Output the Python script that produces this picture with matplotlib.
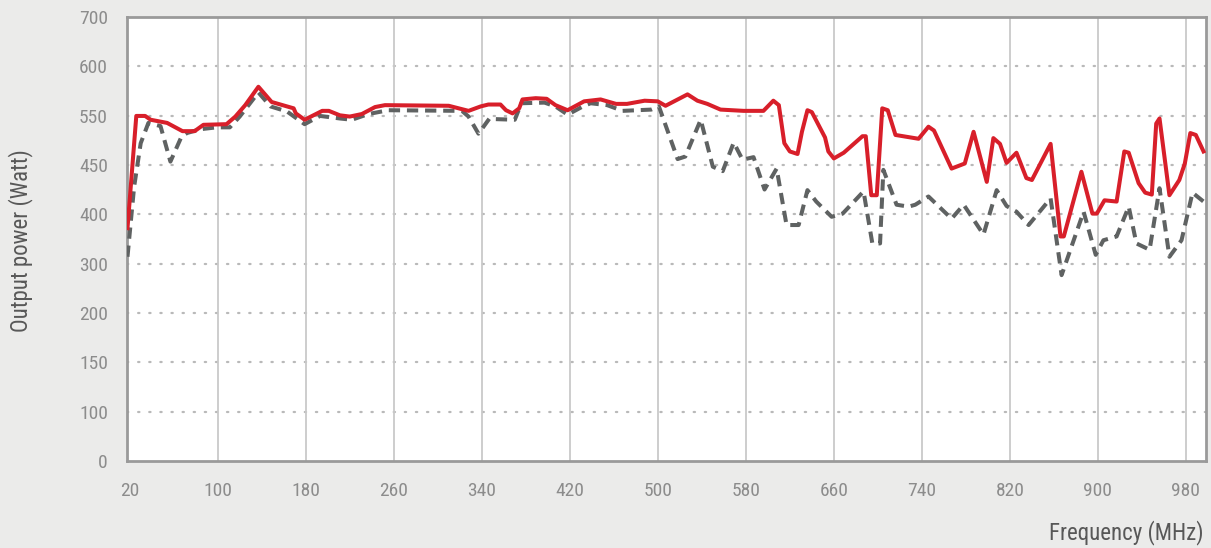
import matplotlib.pyplot as plt
from matplotlib import font_manager

# frequency (MHz) / output power (W)
red_freq = [18, 26, 34, 39, 54, 68, 79, 87, 108, 116, 125, 137, 149, 169, 171, 179,
            195, 201, 211, 220, 231, 243, 252, 310, 328, 339, 346, 357, 362, 368,
            374, 377, 389, 399, 407, 418, 433, 448, 462, 472, 488, 500, 507, 527,
            536, 545, 557, 578, 596, 605, 610, 615, 620, 627, 631, 636, 640, 652,
            655, 660, 669, 686, 689, 694, 699, 704, 709, 716, 737, 746, 751, 767,
            779, 787, 799, 805, 811, 817, 826, 835, 840, 857, 866, 869, 885, 895,
            899, 906, 917, 924, 928, 937, 943, 949, 953, 956, 965, 974, 979, 984,
            989, 996]
red_power = [367, 544, 544, 538, 533, 520, 520, 530, 531, 543, 561, 590, 566, 556, 548, 538,
             552, 552, 545, 543, 547, 558, 561, 560, 552, 559, 562, 562, 553, 548,
             556, 570, 572, 571, 561, 553, 567, 570, 563, 563, 568, 567, 560, 578,
             568, 563, 554, 552, 552, 568, 561, 501, 488, 484, 519, 553, 550, 510,
             488, 477, 486, 512, 512, 419, 419, 556, 553, 514, 508, 527, 521, 461,
             469, 519, 440, 509, 500, 470, 486, 446, 443, 500, 354, 354, 456, 390,
             390, 411, 409, 488, 486, 438, 423, 420, 532, 540, 419, 443, 469, 517,
             514, 488]

gray_freq = [18, 24, 30, 37, 48, 57, 67, 72, 84, 99, 111, 120, 137, 148, 163, 179,
             193, 211, 222, 237, 255, 322, 328, 337, 347, 352, 370, 376, 397, 407,
             418, 433, 439, 454, 468, 494, 501, 518, 525, 539, 550, 559, 569, 577,
             587, 597, 608, 617, 628, 636, 644, 658, 668, 687, 695, 702, 705, 717,
             728, 734, 746, 767, 778, 796, 808, 817, 826, 837, 857, 867, 887, 898,
             905, 917, 928, 935, 947, 956, 965, 976, 986, 996]
gray_power = [322, 432, 501, 533, 528, 472, 511, 517, 523, 526, 526, 543, 581, 559, 551, 531,
              544, 540, 538, 547, 553, 552, 543, 516, 540, 539, 538, 564, 565, 559,
              546, 560, 564, 561, 552, 554, 559, 476, 480, 538, 464, 457, 502, 475,
              479, 428, 461, 372, 372, 427, 409, 385, 390, 425, 343, 343, 459, 404,
              401, 404, 417, 382, 404, 357, 427, 402, 393, 372, 414, 293, 393, 325,
              348, 354, 401, 343, 333, 430, 322, 348, 423, 409]

x_ticks = [20, 100, 180, 260, 340, 420, 500, 580, 660, 740, 820, 900, 980]
y_tick_labels = ['0', '100', '150', '200', '300', '400', '450', '550', '600', '700']

# pick a narrow-ish sans if one is there
names = {f.name for f in font_manager.fontManager.ttflist}
fam = [f for f in ['Roboto Condensed', 'Liberation Sans Narrow', 'Roboto'] if f in names]
plt.rcParams['font.family'] = fam + ['DejaVu Sans']

bg = '#ebebea'
fig = plt.figure(figsize=(12.11, 5.48), dpi=100, facecolor=bg)
ax = fig.add_axes([0.1051, 0.1588, 0.891, 0.8102])
ax.set_facecolor('white')

ax.plot(gray_freq, gray_power, color='#5f6262', linewidth=2.9,
        dashes=(2.8, 1.7), zorder=3)
ax.plot(red_freq, red_power, color='#d81f2a', linewidth=2.9, zorder=4)

ax.set_xlim(17.8, 998.5)
ax.set_ylim(0, 700)

y_pos = [700 * k / 9 for k in range(10)]
ax.set_yticks(y_pos)
ax.set_yticklabels(y_tick_labels)
ax.set_xticks(x_ticks)

for y in y_pos[1:-1]:
    ax.axhline(y, color='#b9b9b9', linewidth=1.6, linestyle=(0, (0.6, 4.4)),
               dash_capstyle='round', zorder=1)
for x in x_ticks[1:]:
    ax.axvline(x, color='#c9c9c9', linewidth=1.3, zorder=1)

for s in ax.spines.values():
    s.set_color('#9a9a9a')
    s.set_linewidth(2)

ax.tick_params(length=0, colors='#8c8c8c', labelsize=14)
ax.tick_params(axis='x', pad=15)
ax.tick_params(axis='y', pad=14)

fig.text(0.017, 0.56, 'Output power (Watt)', rotation=90, ha='center', va='center',
         fontsize=16.5, color='#585858')
fig.text(0.994, 0.028, 'Frequency (MHz)', ha='right', va='center',
         fontsize=16.5, color='#585858')

fig.savefig('out.png', dpi=100, facecolor=bg)
